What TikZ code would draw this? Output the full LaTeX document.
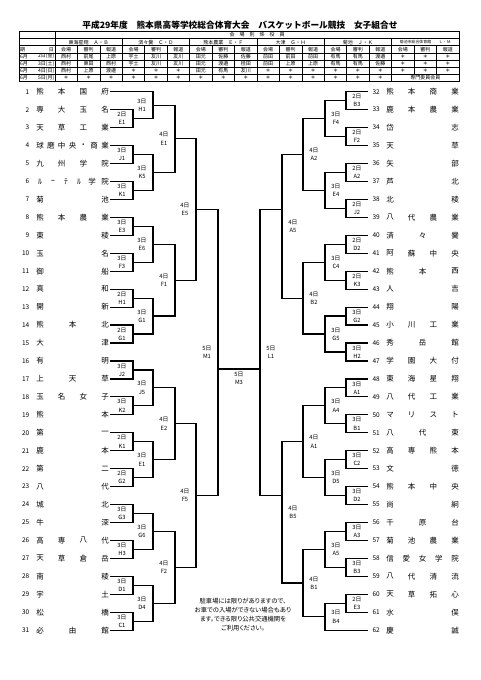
\documentclass[tikz,border=0pt]{standalone}
\usepackage{fontspec}
\setmainfont{Noto Sans CJK JP}
\newfontfamily\notefont[RawFeature=+palt]{Noto Sans CJK JP}
\pgfmathdeclarefunction{ty}{1}{\pgfmathparse{91.7+(#1-1)*17.95}}
\tikzset{
  br/.style={line width=1.2pt,black},
  tl/.style={line width=0.6pt,black},
  lab/.style={font=\fontsize{5.8}{8.2}\selectfont,align=center,inner sep=0pt},
  tn/.style={font=\fontsize{7.5}{8}\selectfont,inner sep=0pt},
  num/.style={font=\fontsize{6.5}{7}\selectfont,inner sep=0pt},
  cell/.style={font=\fontsize{5}{5.5}\selectfont,inner sep=0pt},
  note/.style={font=\notefont\fontsize{6.3}{9}\selectfont,inner sep=0pt,align=center},
}
% bracket: name, side, xv, ra, xa, rb, xb, day, code
\newcommand\brk[9]{%
  \coordinate (#1a) at (#5,{ty(#4)});
  \coordinate (#1b) at (#7,{ty(#6)});
  \draw[br] (#1a) -| (#3,{ty(#6)}) -- (#1b);
  \node[lab] (#1) at ({#3+#2*11},{ty((#4+#6)/2)}) {#8\\#9};
}
% team name spread: id, xfirst, xlast, row, list
\newcommand\tnm[5]{%
  \foreach \tc [count=\i] in {#5} {\xdef\nch{\i}}
  \foreach \tc [count=\i] in {#5} {\node[tn] (#1-\i) at ({#2+(\i-1)*(#3-#2)/(\nch-1)},{ty(#4)}) {\tc};}
}
% table row: id, y, list of 18
\newcommand\trow[3]{%
  \foreach \v [count=\k] in {#3} {\node[cell] (#1-\k) at ({55+(\k-0.5)*22.444},#2) {\v};}
}
\begin{document}
\begin{tikzpicture}[x=1pt,y=-1pt]
\useasboundingbox (0,0) rectangle (480,680);
\fill[white] (0,0) rectangle (480,680);

% title
\node[font=\fontsize{8.7}{9}\selectfont\bfseries,inner sep=0pt] (title) at (240,25)
  {平成29年度　熊本県高等学校総合体育大会　バスケットボール競技　女子組合せ};

% table
\draw[line width=0.9pt] (19,31.5) rectangle (459,81.2);
\foreach \y in {38.6,45.7,52.8,59.9,67.0,74.1} \draw[tl] (19,\y) -- (459,\y);
\draw[tl] (55,31.5) -- (55,81.2);
\foreach \k in {3,6,9,12,15} \draw[tl] ({55+\k*22.444},38.6) -- ({55+\k*22.444},81.2);
\foreach \k in {1,2,4,5,7,8,10,11,13,14} \draw[tl] ({55+\k*22.444},45.7) -- ({55+\k*22.444},81.2);
\foreach \k in {16,17} \draw[tl] ({55+\k*22.444},45.7) -- ({55+\k*22.444},74.1);

\node[cell] (hdr) at (257,35.05) {会　場　別　係　役　員};
\node[cell] (v1) at ({55+1.5*22.444},42.15) {東海星翔　Ａ・Ｂ};
\node[cell] (v2) at ({55+4.5*22.444},42.15) {済々黌　Ｃ・Ｄ};
\node[cell] (v3) at ({55+7.5*22.444},42.15) {熊本農業　Ｅ・Ｆ};
\node[cell] (v4) at ({55+10.5*22.444},42.15) {大津　Ｇ・Ｈ};
\node[cell] (v5) at ({55+13.5*22.444},42.15) {菊池　Ｊ・Ｋ};
\node[cell,font=\fontsize{3.9}{4}\selectfont] (v6) at ({55+16.5*22.444},42.15) {菊池市総合体育館　　Ｌ・Ｍ};
\node[cell,anchor=west] (dq1) at (20,49.25) {期};
\node[cell,anchor=east] (dq2) at (54,49.25) {日};
\trow{rl}{49.25}{会場,審判,報道,会場,審判,報道,会場,審判,報道,会場,審判,報道,会場,審判,報道,会場,審判,報道}
\foreach \dd/\ww/\yy [count=\j] in {2/金/56.35,3/土/63.45,4/日/70.55,5/月/77.65}{
  \node[cell,anchor=west] (dm\j) at (19.8,\yy) {6月};
  \node[cell,anchor=east] (dd\j) at (54.5,\yy) {{\dd}日({\ww})};
}
\trow{ra}{56.35}{西村,前尾,上原,宇土,友川,友川,田元,佐藤,佐藤,前田,前田,前田,有馬,有馬,渡邉,＊,＊,＊}
\trow{rb}{63.45}{西村,東田,西村,宇土,友川,友川,田元,渡邉,桂田,前田,上原,上原,有馬,有馬,佐藤,＊,＊,＊}
\trow{rc}{70.55}{西村,上原,渡邉,＊,＊,＊,田元,有馬,友川,＊,＊,＊,＊,＊,＊,＊,＊,＊}
\trow{rd}{77.65}{＊,＊,＊,＊,＊,＊,＊,＊,＊,＊,＊,＊,＊,＊,＊}
\node[cell] (sen) at ({55+16.5*22.444},77.65) {専門委員会員};

% numbers
\foreach \i in {1,...,31} \node[num,anchor=east] (nl\i) at (29.5,{ty(\i)}) {\i};
\foreach \i [evaluate=\i as \rr using int(\i-31)] in {32,...,62}
  \node[num,anchor=east] (nr\i) at (380,{ty(\rr)}) {\i};

% left team names
\tnm{L1}{40}{105}{1}{熊,本,国,府}
\tnm{L2}{40}{105}{2}{専,大,玉,名}
\tnm{L3}{40}{105}{3}{天,草,工,業}
\tnm{L4}{40}{105}{4}{球,磨,中,央,・,商,業}
\tnm{L5}{40}{105}{5}{九,州,学,院}
\tnm{L6}{40}{105}{6}{ﾙ,ｰ,ﾃ,ﾙ,学,院}
\tnm{L7}{40}{105}{7}{菊,池}
\tnm{L8}{40}{105}{8}{熊,本,農,業}
\tnm{L9}{40}{105}{9}{東,稜}
\tnm{L10}{40}{105}{10}{玉,名}
\tnm{L11}{40}{105}{11}{御,船}
\tnm{L12}{40}{105}{12}{真,和}
\tnm{L13}{40}{105}{13}{開,新}
\tnm{L14}{40}{105}{14}{熊,本,北}
\tnm{L15}{40}{105}{15}{大,津}
\tnm{L16}{40}{105}{16}{有,明}
\tnm{L17}{40}{105}{17}{上,天,草}
\tnm{L18}{40}{105}{18}{玉,名,女,子}
\tnm{L19}{40}{105}{19}{熊,本}
\tnm{L20}{40}{105}{20}{第,一}
\tnm{L21}{40}{105}{21}{鹿,本}
\tnm{L22}{40}{105}{22}{第,二}
\tnm{L23}{40}{105}{23}{八,代}
\tnm{L24}{40}{105}{24}{城,北}
\tnm{L25}{40}{105}{25}{牛,深}
\tnm{L26}{40}{105}{26}{高,専,八,代}
\tnm{L27}{40}{105}{27}{天,草,倉,岳}
\tnm{L28}{40}{105}{28}{南,稜}
\tnm{L29}{40}{105}{29}{宇,土}
\tnm{L30}{40}{105}{30}{松,橋}
\tnm{L31}{40}{105}{31}{必,由,館}

% right team names
\tnm{R32}{390}{455}{1}{熊,本,商,業}
\tnm{R33}{390}{455}{2}{鹿,本,農,業}
\tnm{R34}{390}{455}{3}{岱,志}
\tnm{R35}{390}{455}{4}{天,草}
\tnm{R36}{390}{455}{5}{矢,部}
\tnm{R37}{390}{455}{6}{芦,北}
\tnm{R38}{390}{455}{7}{北,稜}
\tnm{R39}{390}{455}{8}{八,代,農,業}
\tnm{R40}{390}{455}{9}{済,々,黌}
\tnm{R41}{390}{455}{10}{阿,蘇,中,央}
\tnm{R42}{390}{455}{11}{熊,本,西}
\tnm{R43}{390}{455}{12}{人,吉}
\tnm{R44}{390}{455}{13}{翔,陽}
\tnm{R45}{390}{455}{14}{小,川,工,業}
\tnm{R46}{390}{455}{15}{秀,岳,館}
\tnm{R47}{390}{455}{16}{学,園,大,付}
\tnm{R48}{390}{455}{17}{東,海,星,翔}
\tnm{R49}{390}{455}{18}{八,代,工,業}
\tnm{R50}{390}{455}{19}{マ,リ,ス,ト}
\tnm{R51}{390}{455}{20}{八,代,東}
\tnm{R52}{390}{455}{21}{高,専,熊,本}
\tnm{R53}{390}{455}{22}{文,徳}
\tnm{R54}{390}{455}{23}{熊,本,中,央}
\tnm{R55}{390}{455}{24}{尚,絅}
\tnm{R56}{390}{455}{25}{千,原,台}
\tnm{R57}{390}{455}{26}{菊,池,農,業}
\tnm{R58}{390}{455}{27}{信,愛,女,学,院}
\tnm{R59}{390}{455}{28}{八,代,清,流}
\tnm{R60}{390}{455}{29}{天,草,拓,心}
\tnm{R61}{390}{455}{30}{水,俣}
\tnm{R62}{390}{455}{31}{慶,誠}

% left bracket
\brk{LEb}{-1}{133}{2}{110}{3}{110}{2日}{E1}
\brk{LJa}{-1}{133}{4}{110}{5}{110}{3日}{J1}
\brk{LKa}{-1}{133}{6}{110}{7}{110}{3日}{K1}
\brk{LEc}{-1}{133}{8}{110}{9}{110}{3日}{E3}
\brk{LFc}{-1}{133}{10}{110}{11}{110}{3日}{F3}
\brk{LHb}{-1}{133}{12}{110}{13}{110}{2日}{H1}
\brk{LGb}{-1}{133}{14}{110}{15}{110}{2日}{G1}
\brk{LJb}{-1}{133}{16}{110}{17}{110}{3日}{J2}
\brk{LKb}{-1}{133}{18}{110}{19}{110}{3日}{K2}
\brk{LKc}{-1}{133}{20}{110}{21}{110}{2日}{K1}
\brk{LGc}{-1}{133}{22}{110}{23}{110}{2日}{G2}
\brk{LGd}{-1}{133}{24}{110}{25}{110}{3日}{G3}
\brk{LHc}{-1}{133}{26}{110}{27}{110}{3日}{H3}
\brk{LDa}{-1}{133}{28}{110}{29}{110}{3日}{D1}
\brk{LCa}{-1}{133}{30}{110}{31}{110}{3日}{C1}
\brk{LHd}{-1}{153}{1}{110}{2.5}{133}{3日}{H1}
\brk{LKd}{-1}{153}{4.5}{133}{6.5}{133}{3日}{K5}
\brk{LEd}{-1}{153}{8.5}{133}{10.5}{133}{3日}{E6}
\brk{LGe}{-1}{153}{12.5}{133}{14.5}{133}{3日}{G1}
\brk{LJc}{-1}{153}{16.5}{133}{18.5}{133}{3日}{J5}
\brk{LEe}{-1}{153}{20.5}{133}{22.5}{133}{3日}{E1}
\brk{LGf}{-1}{153}{24.5}{133}{26.5}{133}{3日}{G6}
\brk{LDb}{-1}{153}{28.5}{133}{30.5}{133}{3日}{D4}
\brk{LEf}{-1}{175}{1.75}{153}{5.5}{153}{4日}{E1}
\brk{LFd}{-1}{175}{9.5}{153}{13.5}{153}{4日}{F1}
\brk{LEg}{-1}{175}{17.5}{153}{21.5}{153}{4日}{E2}
\brk{LFe}{-1}{175}{25.5}{153}{29.5}{153}{4日}{F2}
\brk{LEh}{-1}{196}{3.625}{175}{11.5}{175}{4日}{E5}
\brk{LFf}{-1}{196}{19.5}{175}{27.5}{175}{4日}{F5}
\brk{LMa}{-1}{218}{7.5625}{196}{23.5}{196}{5日}{M1}

% right bracket
\brk{RBa}{1}{346}{1}{368}{2}{368}{2日}{B3}
\brk{RFa}{1}{346}{3}{368}{4}{368}{2日}{F2}
\brk{RAa}{1}{346}{5}{368}{6}{368}{2日}{A2}
\brk{RJa}{1}{346}{7}{368}{8}{368}{2日}{J2}
\brk{RDa}{1}{346}{9}{368}{10}{368}{2日}{D2}
\brk{RKa}{1}{346}{11}{368}{12}{368}{2日}{K3}
\brk{RGa}{1}{346}{13}{368}{14}{368}{3日}{G2}
\brk{RHa}{1}{346}{15}{368}{16}{368}{3日}{H2}
\brk{RAb}{1}{346}{17}{368}{18}{368}{3日}{A1}
\brk{RBb}{1}{346}{19}{368}{20}{368}{3日}{B1}
\brk{RCa}{1}{346}{21}{368}{22}{368}{3日}{C2}
\brk{RDb}{1}{346}{23}{368}{24}{368}{3日}{D2}
\brk{RAc}{1}{346}{25}{368}{26}{368}{3日}{A3}
\brk{RBc}{1}{346}{27}{368}{28}{368}{3日}{B3}
\brk{REa}{1}{346}{29}{368}{30}{368}{2日}{E3}
\brk{RFb}{1}{325}{1.5}{346}{3.5}{346}{3日}{F4}
\brk{REb}{1}{325}{5.5}{346}{7.5}{346}{3日}{E4}
\brk{RCb}{1}{325}{9.5}{346}{11.5}{346}{3日}{C4}
\brk{RGb}{1}{325}{13.5}{346}{15.5}{346}{3日}{G5}
\brk{RAd}{1}{325}{17.5}{346}{19.5}{346}{3日}{A4}
\brk{RDc}{1}{325}{21.5}{346}{23.5}{346}{3日}{D5}
\brk{RAe}{1}{325}{25.5}{346}{27.5}{346}{3日}{A5}
\brk{RBd}{1}{325}{29.5}{346}{31}{368}{3日}{B4}
\brk{RAf}{1}{303}{2.5}{325}{6.5}{325}{4日}{A2}
\brk{RBe}{1}{303}{10.5}{325}{14.5}{325}{4日}{B2}
\brk{RAg}{1}{303}{18.5}{325}{22.5}{325}{4日}{A1}
\brk{RBf}{1}{303}{26.5}{325}{30.25}{325}{4日}{B1}
\brk{RAh}{1}{282}{4.5}{303}{12.5}{303}{4日}{A5}
\brk{RBg}{1}{282}{20.5}{303}{28.375}{303}{4日}{B5}
\coordinate (RLa) at (282,{ty(7.5625)});
\coordinate (RLb) at (282,{ty(23.5)});
\draw[br] (RLa) -| (260,{ty(23.5)}) -- (RLb);
\node[lab] (RL1) at (271,{ty(15.53)}) {5日\\L1};

% final
\coordinate (fm) at (218,{ty(16.45)});
\coordinate (fl) at (260,{ty(16.45)});
\draw[br] (fm) -- (fl);
\node[lab] (M3) at (239,{ty(16.45)+9}) {5日\\M3};

% note
\node[note] (note) at (243,614.5) {駐車場には限りがありますので、\\お車での入場ができない場合もあり\\ます。できる限り公共交通機関を\\ご利用ください。};
\end{tikzpicture}
\end{document}
